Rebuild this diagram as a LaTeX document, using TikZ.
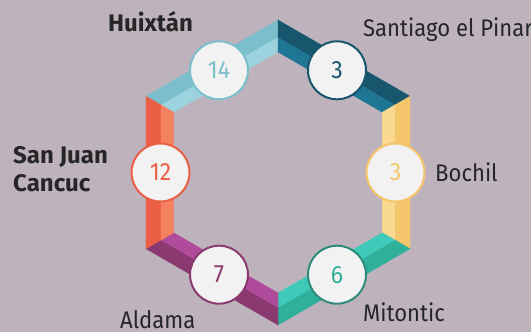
\documentclass[tikz,border=0pt]{standalone}
\usepackage{fontspec}
\setmainfont{Fira Sans}
\newfontfamily\regf{Fira Sans}[FakeStretch=0.92]
\usetikzlibrary{calc}
\definecolor{bg}{HTML}{BEB3BD}
\definecolor{cyO}{HTML}{7BBFCC}
\definecolor{cyI}{HTML}{9DD3DE}
\definecolor{dbO}{HTML}{18566E}
\definecolor{dbI}{HTML}{1F7594}
\definecolor{yeO}{HTML}{F5C56B}
\definecolor{yeI}{HTML}{F8D98F}
\definecolor{teO}{HTML}{30AF9B}
\definecolor{teI}{HTML}{3FC9B9}
\definecolor{teB}{HTML}{2E8B7B}
\definecolor{puO}{HTML}{8A3A70}
\definecolor{puI}{HTML}{B04A9B}
\definecolor{reO}{HTML}{EC5F47}
\definecolor{reI}{HTML}{F4815F}
\definecolor{cfill}{HTML}{F2F2F2}
\definecolor{txt}{HTML}{262626}
\begin{document}
\begin{tikzpicture}[x=1pt,y=1pt,
  numc/.style={circle, draw=#1, line width=2pt, fill=cfill, minimum size=58pt, inner sep=0pt, font=\regf\fontsize{25}{25}\selectfont},
  lab/.style={anchor=base west, inner sep=0pt, text=txt, font=\regf\fontsize{24}{28}\selectfont},
  blab/.style={lab, font=\fontsize{24}{28}\selectfont\bfseries}]
\fill[bg] (0,0) rectangle (531,332);
\useasboundingbox (0,0) rectangle (531,332);
\coordinate (C) at (278,159.5);
\foreach \a/\co/\ci in {150/cyO/cyI, 90/dbO/dbI, 30/yeO/yeI, -30/teO/teI, -90/puO/puI, -150/reO/reI} {
  \filldraw[\co, line width=0.3pt, shift={(C)}] (\a:152.5) -- (\a-60:152.5) -- (\a-60:135) -- (\a:135) -- cycle;
  \filldraw[\ci, line width=0.3pt, shift={(C)}] (\a:135) -- (\a-60:135) -- (\a-60:120.5) -- (\a:120.5) -- cycle;
}
\node[numc=cyO, text=cyO] (n14) at ($(C)+(120:118)$) {14};
\node[numc=dbO, text=dbO] (n3a) at ($(C)+(60:118)$) {3};
\node[numc=yeO, text=yeO] (n3b) at ($(C)+(0:117.5)$) {3};
\node[numc=teB, text=teO] (n6) at ($(C)+(-60:118)$) {6};
\node[numc=puO, text=puO] (n7) at ($(C)+(-120:118)$) {7};
\node[numc=reO, text=reO] (n12) at ($(C)+(180:117.5)$) {12};
\node[blab] (huix) at (108,300.7) {Huixtán};
\node[lab] (sant) at (363,295.3) {Santiago el Pinar};
\node[blab, align=left, anchor=north west] (sanj) at (13,186) {San Juan\\Cancuc};
\node[lab] (boch) at (435,150.3) {Bochil};
\node[lab] (mito) at (363,10.3) {Mitontic};
\node[lab] (alda) at (120,3.7) {Aldama};
\end{tikzpicture}
\end{document}
